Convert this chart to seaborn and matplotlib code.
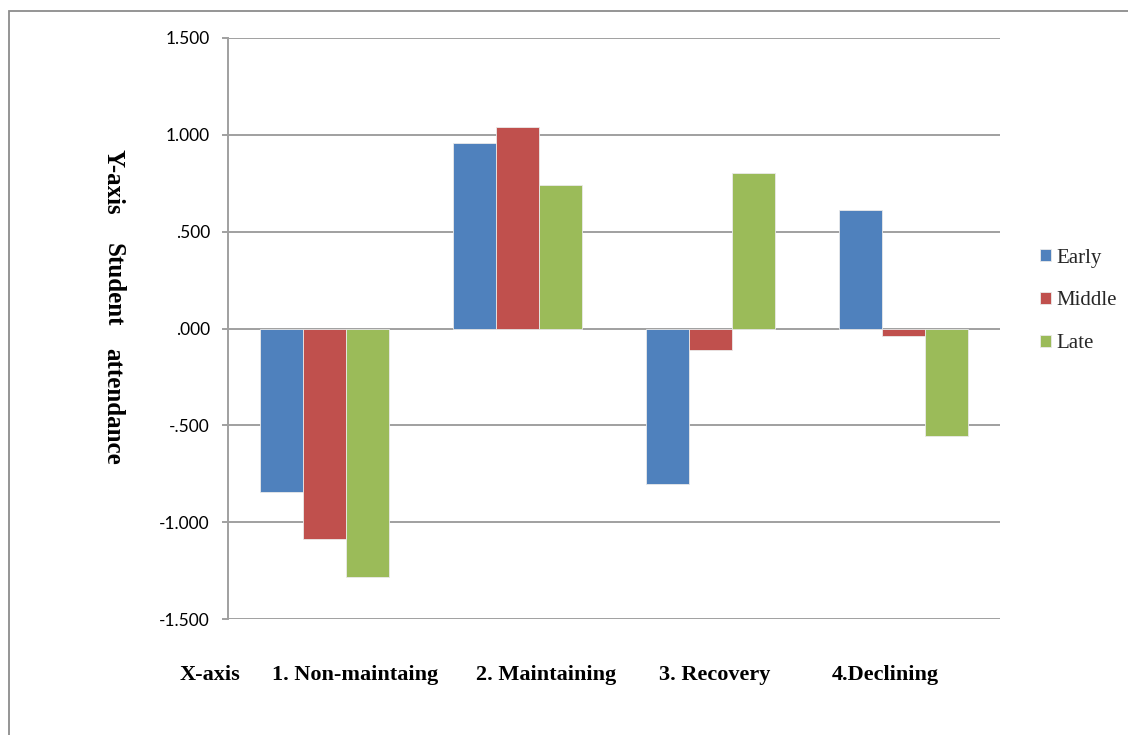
import matplotlib
matplotlib.use("Agg")
import matplotlib.pyplot as plt
from matplotlib.patches import Rectangle
from matplotlib.ticker import FuncFormatter
import seaborn as sns
import pandas as pd

# Attendance trajectory groups and period means
groups = ["1. Non-maintaing", "2. Maintaining", "3. Recovery", "4.Declining"]
periods = ["Early", "Middle", "Late"]
early = [-0.846, 0.957, -0.803, 0.611]
middle = [-1.089, 1.041, -0.109, -0.039]
late = [-1.284, 0.740, 0.802, -0.555]
y_ticks = [-1.5, -1.0, -0.5, 0.0, 0.5, 1.0, 1.5]

colors = ["#4F81BD", "#C0504D", "#9BBB59"]

rows = []
for period, vals in zip(periods, [early, middle, late]):
    for g, v in zip(groups, vals):
        rows.append({"group": g, "period": period, "value": v})
df = pd.DataFrame(rows)

sns.set_theme(style="white")
W, H = 1128, 735
fig = plt.figure(figsize=(W / 100, H / 100), dpi=100)
fig.patch.set_facecolor("white")


def fx(px):
    return px / W


def fy(py):
    return 1 - py / H


ax = fig.add_axes([fx(228), fy(619), fx(1000) - fx(228), fy(38) - fy(619)])

sns.barplot(data=df, x="group", y="value", hue="period", order=groups,
            hue_order=periods, palette=colors, saturation=1, width=0.668,
            edgecolor="#EAEAEA", linewidth=0.6, ax=ax, legend=True)

ax.set_xlim(-0.5, 3.5)
ax.set_ylim(-1.5, 1.5)
ax.set_yticks(y_ticks)


def fmt(v, _):
    s = f"{abs(v):.3f}"
    if s.startswith("0"):
        s = s[1:]
    return ("-" if v < 0 else "") + s


ax.yaxis.set_major_formatter(FuncFormatter(fmt))
ax.set_xticks([])
ax.set_xlabel("")
ax.set_ylabel("")

grid_c = "#A0A0A0"
ax.set_axisbelow(True)
ax.yaxis.grid(True, color=grid_c, linewidth=1.4)
for side in ["top", "right", "bottom"]:
    ax.spines[side].set_visible(False)
ax.spines["left"].set_color(grid_c)
ax.spines["left"].set_linewidth(1.4)
ax.tick_params(axis="y", which="major", left=True, length=4.5, width=1.4,
               color=grid_c, pad=8.5, labelsize=12.5, labelcolor="black")
for lbl in ax.get_yticklabels():
    lbl.set_fontfamily("Lato")

# Legend on the right
handles, labels = ax.get_legend_handles_labels()
ax.get_legend().remove()
fig.legend(handles, labels, loc="center left",
           bbox_to_anchor=(fx(1030), fy(301)), frameon=False,
           prop={"family": "Liberation Serif", "size": 15},
           handlelength=0.53, handleheight=0.53, handletextpad=0.25,
           labelspacing=1.15, borderpad=0)

# Axis captions
serif_bold = {"family": "Liberation Serif", "weight": "bold", "color": "black"}
for text, cy in [("Y-axis", 181.5), ("Student", 285), ("attendance", 406.5)]:
    fig.text(fx(113), fy(cy), text, rotation=270, ha="center", va="center",
             fontsize=18, **serif_bold)

x_caption_pos = [355, 546, 714.5, 885]
fig.text(fx(209.5), fy(675), "X-axis", ha="center", va="center",
         fontsize=16, **serif_bold)
for g, cx in zip(groups, x_caption_pos):
    fig.text(fx(cx), fy(675), g, ha="center", va="center", fontsize=16,
             **serif_bold)

# Outer frame of the chart area
fig.patches.append(Rectangle((fx(9), -0.1), 1.2, fy(11) + 0.1,
                             transform=fig.transFigure, fill=False,
                             edgecolor="#8C8C8C", linewidth=1.3))

fig.savefig("out.png", dpi=100, facecolor="white")
